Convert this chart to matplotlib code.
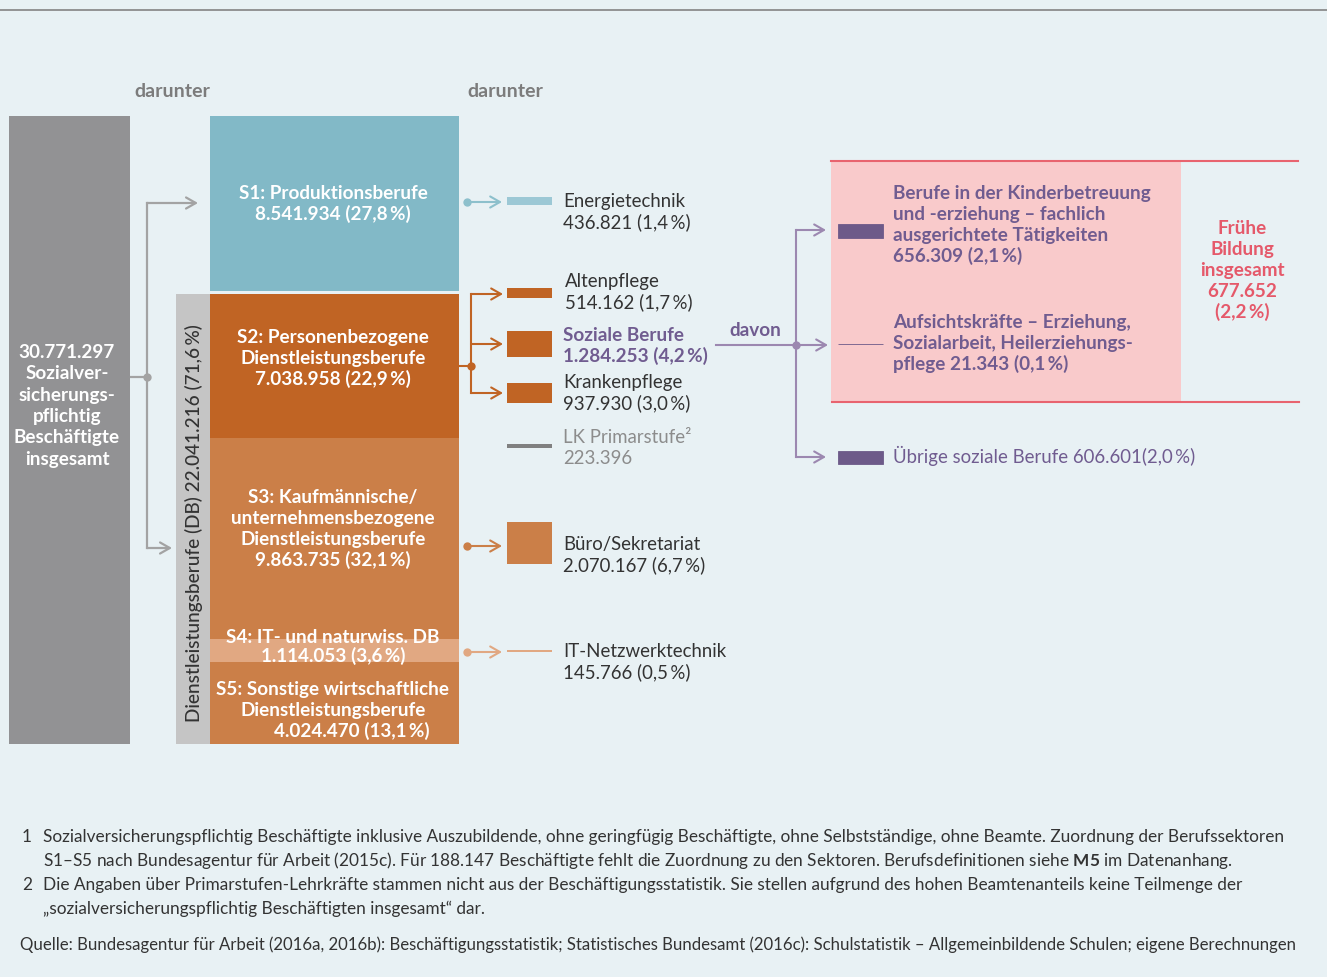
import matplotlib
matplotlib.use("Agg")
import matplotlib.pyplot as plt
from matplotlib.patches import Rectangle

# ---------------- data ----------------
total_label = ["Sozialver-", "sicherungs-", "pflichtig", "Beschäftigte", "insgesamt"]
total_value = 30771297

db_label = "Dienstleistungsberufe (DB)"
db_value = 22041216
db_pct = 71.6

sector_names = [
    ["S1: Produktionsberufe"],
    ["S2: Personenbezogene", "Dienstleistungsberufe"],
    ["S3: Kaufmännische/", "unternehmensbezogene", "Dienstleistungsberufe"],
    ["S4: IT- und naturwiss. DB"],
    ["S5: Sonstige wirtschaftliche", "Dienstleistungsberufe"],
]
sector_values = [8541934, 7038958, 9863735, 1114053, 4024470]
sector_pcts = [27.8, 22.9, 32.1, 3.6, 13.1]

sub_names = ["Energietechnik", "Altenpflege", "Soziale Berufe", "Krankenpflege",
             "LK Primarstufe²", "Büro/Sekretariat", "IT-Netzwerktechnik"]
sub_values = [436821, 514162, 1284253, 937930, 223396, 2070167, 145766]
sub_pcts = [1.4, 1.7, 4.2, 3.0, None, 6.7, 0.5]

social_names = [
    ["Berufe in der Kinderbetreuung", "und -erziehung – fachlich", "ausgerichtete Tätigkeiten"],
    ["Aufsichtskräfte – Erziehung,", "Sozialarbeit, Heilerziehungs-", "pflege"],
    ["Übrige soziale Berufe"],
]
social_values = [656309, 21343, 606601]
social_pcts = [2.1, 0.1, 2.0]

fb_label = ["Frühe", "Bildung", "insgesamt"]
fb_value = 677652
fb_pct = 2.2

header_labels = ["darunter", "darunter"]
davon_label = "davon"

footnotes = [
    ("1", ["Sozialversicherungspflichtig Beschäftigte inklusive Auszubildende, ohne geringfügig Beschäftigte, ohne Selbstständige, ohne Beamte. Zuordnung der Berufssektoren",
           "S1–S5 nach Bundesagentur für Arbeit (2015c). Für 188.147 Beschäftigte fehlt die Zuordnung zu den Sektoren. Berufsdefinitionen siehe $\\mathbf{M5}$ im Datenanhang."]),
    ("2", ["Die Angaben über Primarstufen-Lehrkräfte stammen nicht aus der Beschäftigungsstatistik. Sie stellen aufgrund des hohen Beamtenanteils keine Teilmenge der",
           "„sozialversicherungspflichtig Beschäftigten insgesamt“ dar."]),
]
source = "Quelle: Bundesagentur für Arbeit (2016a, 2016b): Beschäftigungsstatistik; Statistisches Bundesamt (2016c): Schulstatistik – Allgemeinbildende Schulen; eigene Berechnungen"


def de(v):
    return f"{v:,}".replace(",", ".")


def pc(p):
    return f"{p:.1f}".replace(".", ",") + "\u2009%"


# ---------------- style ----------------
FONT = ["Lato", "DejaVu Sans"]
plt.rcParams["mathtext.fontset"] = "custom"
plt.rcParams["mathtext.bf"] = "Lato:bold"
plt.rcParams["mathtext.rm"] = "Lato"
BG = "#E8F1F4"
GRAY = "#929294"
DBGRAY = "#C5C5C5"
TEAL = "#82B9C7"
TEAL_L = "#9CC8D5"
TEAL_A = "#8DC0CC"
ORANGE = "#C06424"
ORANGE2 = "#CB7F48"
ORANGE_L = "#E1A882"
PURPLE = "#6D5A89"
PURPLE_T = "#705C90"
PURPLE_A = "#9C88B0"
PINK = "#F9CACB"
RED = "#E8646F"
RED_T = "#E5596A"
DARK = "#333333"
MID = "#7C7C7C"
FS = 13.4      # regular text
FSB = 13.6     # bold text
STEP = 21
BW = "bold"

fig = plt.figure(figsize=(13.27, 9.77), dpi=100, facecolor=BG)
ax = fig.add_axes([0, 0, 1, 1])
ax.set_xlim(0, 1327)
ax.set_ylim(977, 0)
ax.axis("off")
ax.set_facecolor(BG)


def txt(x, y, s, **kw):
    kw.setdefault("family", FONT)
    if kw.get("weight") == BW:
        kw.setdefault("fontsize", FSB)
    kw.setdefault("fontsize", FS)
    kw.setdefault("va", "baseline")
    ax.text(x, y, s, **kw)


def lines(x, y0, ls, step=STEP, **kw):
    for i, s in enumerate(ls):
        txt(x, y0 + i * step, s, **kw)


def arrow(x0, x1, y, color, lw=1.5):
    ax.annotate("", xy=(x1, y), xytext=(x0, y),
                arrowprops=dict(arrowstyle="->,head_length=0.7,head_width=0.4",
                                color=color, lw=lw, shrinkA=0, shrinkB=0))


def dot(x, y, color):
    ax.plot([x], [y], "o", ms=6, color=color, mec="none")


# top rule
ax.plot([0, 1327], [10, 10], color="#8C8C8C", lw=1.3)

# headers
txt(172, 97, header_labels[0], ha="center", color=MID, weight=BW, fontsize=14)
txt(505, 97, header_labels[1], ha="center", color=MID, weight=BW, fontsize=14)

scale = 20.4e-6
base = 744

# total column
h_tot = total_value * scale
ax.bar(69.5, h_tot, width=121, bottom=base - h_tot, color=GRAY)
lines(67, 358, [de(total_value)] + total_label, step=21.3, ha="center",
      color="white", weight=BW)

# DB column
h_db = db_value * scale
ax.bar(193, h_db, width=34, bottom=base - h_db, color=DBGRAY)
ax.text(194, base - h_db / 2 + 4, f"{db_label} {de(db_value)} ({pc(db_pct)})",
        rotation=90, ha="center", va="center", family=FONT, fontsize=13.7,
        color=DARK, weight="medium")

# sector stack (from bottom)
sector_colors = [TEAL, ORANGE, ORANGE2, ORANGE_L, ORANGE2]
tops = [0] * 5
y = base
for i in [4, 3, 2, 1]:
    h = sector_values[i] * scale
    y -= h
    tops[i] = y
gap = (total_value - sum(sector_values)) * scale
tops[0] = y - gap - sector_values[0] * scale
for i in range(5):
    ax.bar(334.5, sector_values[i] * scale, width=249, bottom=tops[i],
           color=sector_colors[i])

sector_text_y = [199, 343, 503, 643, 695]
sector_steps = [21, 21, 21, 19, 21]
for i in range(5):
    ls = sector_names[i] + [f"{de(sector_values[i])} ({pc(sector_pcts[i])})"]
    for j, s in enumerate(ls):
        xx = 333
        if i == 4 and j == len(ls) - 1:
            xx = 352
        txt(xx, sector_text_y[i] + j * sector_steps[i], s, ha="center",
            color="white", weight=BW)

# gray connectors from total column
ax.plot([131, 147], [377, 377], color="#A3A3A3", lw=1.6)
ax.plot([147, 147], [203, 548], color="#A3A3A3", lw=1.6)
dot(147, 377, "#A3A3A3")
arrow(147, 198, 203, "#A3A3A3", lw=1.6)
arrow(147, 172, 548, "#A3A3A3", lw=1.6)

# sub-category bars
sub_yc = [201, 293, 344, 393, 446, 543, 651]
sub_colors = [TEAL_L, ORANGE, ORANGE, ORANGE, "#808080", ORANGE2, ORANGE_L]
for i, v in enumerate(sub_values):
    h = v * scale
    ax.bar(529.5, h, width=45, bottom=sub_yc[i] - h / 2, color=sub_colors[i])

sub_tx = [563, 565, 563, 563, 563, 563, 563]
sub_ty = [207, 287, 341, 388, 443, 550, 657]
for i, name in enumerate(sub_names):
    val = de(sub_values[i]) + ("" if sub_pcts[i] is None else f" ({pc(sub_pcts[i])})")
    if i == 2:
        kw = dict(color=PURPLE_T, weight=BW)
    elif i == 4:
        kw = dict(color="#8C8C8C")
    else:
        kw = dict(color=DARK)
    lines(sub_tx[i], sub_ty[i], [name, val], **kw)

# connectors from sectors
dot(467, 202, TEAL_A)
arrow(467, 502, 202, TEAL_A)
ax.plot([459, 471], [366, 366], color=ORANGE, lw=1.5)
ax.plot([471, 471], [294, 393], color=ORANGE, lw=1.5)
dot(471, 366, ORANGE)
for yy in [294, 344, 393]:
    arrow(471, 503, yy, ORANGE)
dot(467, 546, ORANGE2)
arrow(467, 502, 546, ORANGE2)
dot(467, 652, ORANGE_L)
arrow(467, 502, 652, ORANGE_L)

# davon connectors
ax.plot([716, 796], [345, 345], color=PURPLE_A, lw=1.5)
ax.plot([796, 796], [230, 457], color=PURPLE_A, lw=1.5)
dot(796, 345, PURPLE_A)
arrow(796, 826, 230, PURPLE_A)
arrow(796, 828, 345, PURPLE_A)
arrow(796, 826, 457, PURPLE_A)
txt(755, 336, davon_label, ha="center", color=PURPLE_T, weight=BW)

# Frühe Bildung box
ax.add_patch(Rectangle((831, 161), 350, 241, color=PINK, lw=0))
ax.plot([831, 1298], [160.5, 160.5], color=RED, lw=1.5)
ax.plot([832, 1299], [402, 402], color=RED, lw=1.5)
lines(1242, 234, fb_label + [de(fb_value), f"({pc(fb_pct)})"], step=21.1,
      ha="center", color=RED_T, weight=BW)

# social bars
soc_yc = [231, 344, 457.5]
for i, v in enumerate(social_values):
    h = v * scale
    ax.bar(860.5, h, width=45, bottom=soc_yc[i] - h / 2, color=PURPLE,
           edgecolor=PURPLE, lw=0.6)

lines(893, 199, social_names[0] + [f"{de(social_values[0])} ({pc(social_pcts[0])})"],
      color=PURPLE_T, weight=BW)
ls1 = social_names[1][:-1] + [social_names[1][-1] + f" {de(social_values[1])} ({pc(social_pcts[1])})"]
lines(893, 328, ls1, color=PURPLE_T, weight=BW)
txt(893, 463, social_names[2][0] + f" {de(social_values[2])}({pc(social_pcts[2])})",
    color=PURPLE_T)

# footnotes
FFS = 12.4
fy = 842
for num, ls in footnotes:
    txt(22, fy, num, fontsize=FFS, color=DARK)
    for s in ls:
        txt(43, fy, s, fontsize=FFS, color=DARK)
        fy += 24
txt(20, 950, source, fontsize=12.05, color=DARK)

fig.savefig("out.png", dpi=100, facecolor=BG)
